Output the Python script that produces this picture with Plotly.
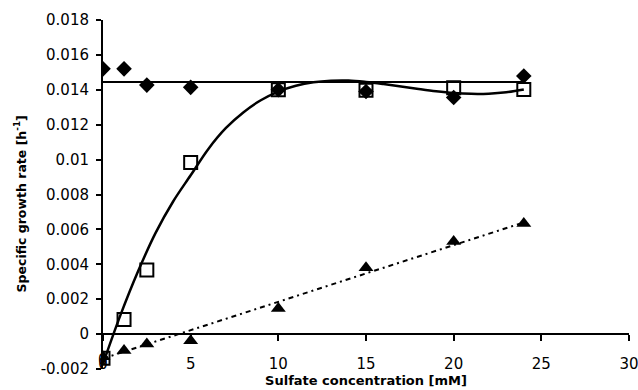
import plotly.graph_objects as go

# Data
conc = [0, 1.2, 2.5, 5, 10, 15, 20, 24]
diamond_rate = [0.0152, 0.0152, 0.01427, 0.01414, 0.0140, 0.0139, 0.01356, 0.01479]
square_rate = [-0.00138, 0.00084, 0.00367, 0.00984, 0.0140, 0.01398, 0.01412, 0.01402]
triangle_rate = [-0.0013, -0.00094, -0.00057, -0.00038, 0.00147, 0.0038, 0.0053, 0.00634]

# Trend lines
hline_x = [0, 24]
hline_y = [0.01445, 0.01445]
curve_x = [0, 1, 2, 3, 4, 5, 6, 7, 8, 9, 10, 11, 12, 13, 14, 15, 16, 17, 18, 19, 20, 21, 22, 23, 24]
curve_y = [-0.0017, 0.0011, 0.0036, 0.0058, 0.0076, 0.0091, 0.0106, 0.0118, 0.0127, 0.0134, 0.0139,
           0.01423, 0.01443, 0.01452, 0.01453, 0.01445, 0.01433, 0.01419, 0.01405, 0.01392, 0.01382,
           0.01377, 0.01378, 0.01386, 0.01402]
lin_x = [0, 24]
lin_y = [-0.0014, 0.0064]

x_ticks = [0, 5, 10, 15, 20, 25, 30]
x_ticktext = ["0", "5", "10", "15", "20", "25", "30"]
y_ticks = [-0.002, 0, 0.002, 0.004, 0.006, 0.008, 0.01, 0.012, 0.014, 0.016, 0.018]
y_ticktext = ["-0.002", "0", "0.002", "0.004", "0.006", "0.008", "0.01", "0.012", "0.014", "0.016", "0.018"]

fig = go.Figure()
fig.add_trace(go.Scatter(x=hline_x, y=hline_y, mode="lines", line=dict(color="black", width=2), showlegend=False))
fig.add_trace(go.Scatter(x=curve_x, y=curve_y, mode="lines",
                         line=dict(color="black", width=2.5, shape="spline", smoothing=1), showlegend=False))
fig.add_trace(go.Scatter(x=lin_x, y=lin_y, mode="lines", line=dict(color="black", width=2, dash="5px,4px,2px,4px"), showlegend=False))
fig.add_trace(go.Scatter(x=conc, y=diamond_rate, mode="markers",
                         marker=dict(symbol="diamond", size=12, color="black"), showlegend=False))
fig.add_trace(go.Scatter(x=conc, y=square_rate, mode="markers",
                         marker=dict(symbol="square-open", size=13, color="black", line=dict(width=2)), showlegend=False))
fig.add_trace(go.Scatter(x=conc, y=triangle_rate, mode="markers",
                         marker=dict(symbol="triangle-up", size=13, color="black"), showlegend=False))

font = dict(family="DejaVu Sans", size=15, color="black")
fig.update_layout(
    width=638, height=390,
    margin=dict(l=103, r=9, t=20, b=21),
    paper_bgcolor="white", plot_bgcolor="white",
    font=font,
    xaxis=dict(range=[0, 30], tickvals=x_ticks, ticktext=x_ticktext,
               showline=True, linecolor="black", linewidth=2,
               ticks="outside", ticklen=6, tickwidth=2, tickcolor="black",
               showgrid=False, zeroline=False,
               anchor="free", position=0.1, ticklabelstandoff=10,
               ticklabeloverflow="allow", automargin=False,
               title=dict(text="<b>Sulfate concentration [mM]</b>",
                          font=dict(family="DejaVu Sans", size=13, color="black"), standoff=2)),
    yaxis=dict(range=[-0.002, 0.018], tickvals=y_ticks, ticktext=y_ticktext,
               showline=True, linecolor="black", linewidth=2,
               ticks="outside", ticklen=5, tickwidth=2, tickcolor="black",
               showgrid=False, zeroline=False, automargin=False, ticklabelstandoff=4),
    annotations=[
        dict(text="<b>Specific growth rate [h<sup>-1</sup>]</b>", textangle=-90,
             xref="paper", yref="paper", x=-0.158, y=0.5, yshift=-9, xanchor="center", yanchor="middle",
             showarrow=False, font=dict(family="DejaVu Sans", size=12.5, color="black")),
        dict(text=x_ticktext[0], xref="x", yref="y", x=x_ticks[0], y=-0.00149,
             xanchor="center", yanchor="middle", showarrow=False, font=font),
    ],
)

fig.write_html("out.html")
